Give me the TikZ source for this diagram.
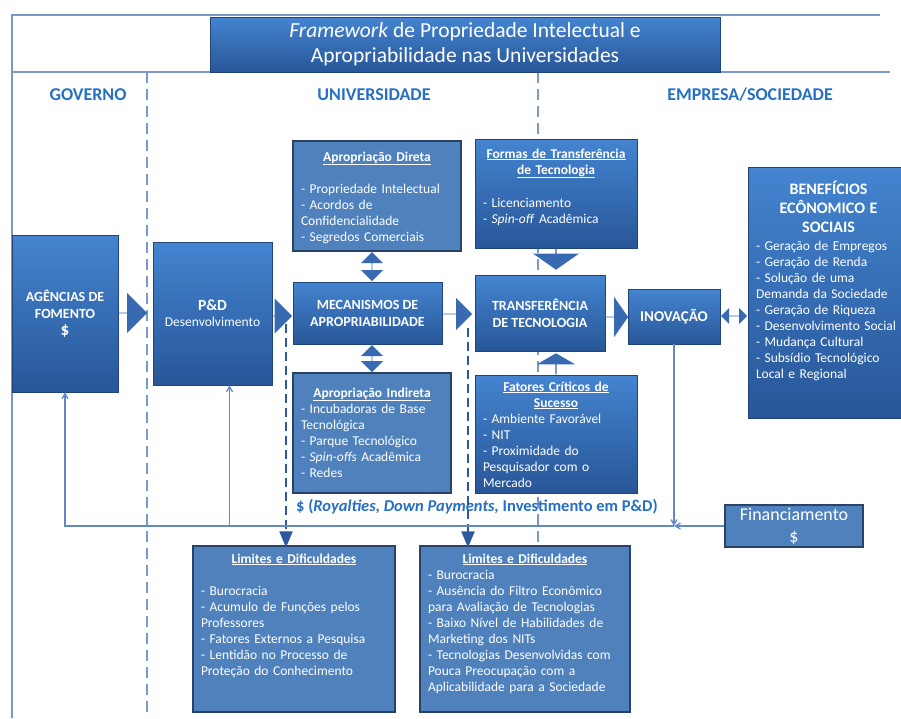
\documentclass[tikz,border=0pt]{standalone}
\usepackage{fontspec}
\setsansfont{Carlito}
\usepackage{xcolor}
\usepackage{tikz}
\usetikzlibrary{arrows,shapes.arrows,positioning,shapes,calc}

\definecolor{bluetop}{RGB}{68,132,208}
\definecolor{bluebot}{RGB}{40,86,152}
\definecolor{flatblue}{RGB}{79,129,189}
\definecolor{navy}{RGB}{42,66,104}
\definecolor{hdrblue}{RGB}{38,112,196}
\definecolor{framecol}{RGB}{122,152,204}
\definecolor{fbcol}{RGB}{98,136,200}
\definecolor{arrowblue}{RGB}{56,106,178}
\definecolor{dashcol}{RGB}{44,88,160}

\begin{document}
\begin{tikzpicture}[x=1pt,y=-1pt,
	font=\sffamily\fontsize{13.5}{16}\selectfont,
	grad box/.style={rectangle,top color=bluetop,bottom color=bluebot,draw=bluebot!80!black,
		line width=.6pt,text=white,align=center,inner sep=0pt},
	flat box/.style={rectangle,fill=flatblue,draw=navy,line width=1.2pt,text=white,
		align=center,inner sep=0pt},
	list box/.style n args={3}{inner xsep=8pt,inner ysep=0pt,text width=#1-16pt,
		text height=#3,text depth=#2-#3,align=left},
	head font/.style={font=\sffamily\bfseries\fontsize{14}{17}\selectfont},
	hdr/.style={font=\sffamily\bfseries\fontsize{18}{21}\selectfont,text=hdrblue},
	blk arrow/.style={single arrow,fill=arrowblue,inner sep=0pt},
	dbl arrow/.style={double arrow,fill=arrowblue,inner sep=0pt},
	sep line/.style={framecol,line width=1.2pt,dash pattern=on 11pt off 6pt},
	dash link/.style={dashcol,line width=2.8pt,dash pattern=on 9pt off 5pt,-triangle 45},
	fb line/.style={fbcol,line width=1.3pt,-angle 60}]

    \fill[white] (0,0) rectangle (901,718);
    \useasboundingbox (0,0) rectangle (901,718);

    % frame and columns
    \draw[framecol,line width=1.5pt] (12,718) -- (12,15) -- (880,15);
    \draw[framecol,line width=1.2pt] (12,72) -- (890,72);
    \draw[sep line] (147,72) -- (147,718);
    \draw[sep line] (538,72) -- (538,718);

    \node[grad box,minimum width=510pt,minimum height=55pt,
      font=\sffamily\fontsize{21.5}{25}\selectfont] (title) at (465,44.5)
      {\textit{Framework} de Propriedade Intelectual e\\Apropriabilidade nas Universidades};

    \node[hdr] (gov) at (88,95) {GOVERNO};
    \node[hdr] (univ) at (374,95) {UNIVERSIDADE};
    \node[hdr] (emp) at (750,95) {EMPRESA/SOCIEDADE};

    % main chain
    \node[grad box,head font,minimum width=106pt,minimum height=157pt] (agen) at (65,313.5)
      {AGÊNCIAS DE\\FOMENTO\\{\fontsize{17}{18}\selectfont\$}};
    \node[grad box,minimum width=119pt,minimum height=143pt] (pd) at (212.5,313.5)
      {{\bfseries\fontsize{15.5}{18}\selectfont P\&D}\\Desenvolvimento};
    \node[grad box,head font,minimum width=149pt,minimum height=62pt] (mec) at (367.5,313)
      {MECANISMOS DE\\APROPRIABILIDADE};
    \node[grad box,head font,minimum width=130pt,minimum height=76pt] (trans) at (540,313)
      {TRANSFERÊNCIA\\DE TECNOLOGIA};
    \node[grad box,minimum width=92pt,minimum height=55pt,
      font=\sffamily\bfseries\fontsize{15}{17}\selectfont] (inov) at (674,316.5) {INOVAÇÃO};

    \node[flat box,list box={168pt}{110pt}{20pt}] (dir) at (377,196)
      {{\centering\textbf{\underline{Apropriação Direta}}\par}\vspace{16pt}%
       - Propriedade Intelectual\\- Acordos de\\Confidencialidade\\- Segredos Comerciais};
    \node[flat box,list box={158pt}{120pt}{24pt}] (ind) at (372,433)
      {{\centering\textbf{\underline{Apropriação Indireta}}\par}%
       - Incubadoras de Base\\Tecnológica\\- Parque Tecnológico\\- \textit{Spin-offs} Acadêmica\\- Redes};
    \node[grad box,list box={162pt}{109pt}{19pt}] (formas) at (556,193.5)
      {{\centering\textbf{\underline{Formas de Transferência}}\\\textbf{\underline{de Tecnologia}}\par}\vspace{17pt}%
       - Licenciamento\\- \textit{Spin-off} Acadêmica};
    \node[grad box,list box={162pt}{118pt}{16pt}] (fat) at (556,434)
      {{\centering\textbf{\underline{Fatores Críticos de}}\\\textbf{\underline{Sucesso}}\par}%
       - Ambiente Favorável\\- NIT\\- Proximidade do\\Pesquisador com o\\Mercado};
    \node[grad box,list box={161pt}{251pt}{27pt}] (ben) at (828.5,292.5)
      {{\centering\bfseries\fontsize{16}{19}\selectfont BENEFÍCIOS\\ECÔNOMICO E\\SOCIAIS\par}\vspace{2pt}%
       - Geração de Empregos\\- Geração de Renda\\- Solução de uma\\Demanda da Sociedade\\- Geração de Riqueza\\%
       - Desenvolvimento Social\\- Mudança Cultural\\- Subsídio Tecnológico\\Local e Regional};

    \node[flat box,minimum width=138pt,minimum height=42pt,
      font=\sffamily\fontsize{18}{22}\selectfont] (fin) at (794,526) {Financiamento\\\$};

    \node[flat box,list box={202pt}{166pt}{17pt}] (lim1) at (294,629)
      {{\centering\textbf{\underline{Limites e Dificuldades}}\par}\vspace{16pt}%
       - Burocracia\\- Acumulo de Funções pelos\\Professores\\- Fatores Externos a Pesquisa\\%
       - Lentidão no Processo de\\Proteção do Conhecimento};
    \node[flat box,list box={210pt}{166pt}{17pt}] (lim2) at (525,629)
      {{\centering\textbf{\underline{Limites e Dificuldades}}\par}%
       - Burocracia\\- Ausência do Filtro Econômico\\para Avaliação de Tecnologias\\%
       - Baixo Nível de Habilidades de\\Marketing dos NITs\\- Tecnologias Desenvolvidas com\\%
       Pouca Preocupação com a\\Aplicabilidade para a Sociedade};

    \node[font=\sffamily\bfseries\fontsize{16.5}{19}\selectfont,text=hdrblue] (roy) at (477,507)
      {\$ (\textit{Royalties, Down Payments,} Investimento em P\&D)};

    % block arrows
    \node[blk arrow,minimum height=29pt,minimum width=40pt,single arrow head extend=11pt] (a1) at (132.5,313) {};
    \node[blk arrow,minimum height=20pt,minimum width=35pt,single arrow head extend=9pt] (a2) at (282,316) {};
    \node[blk arrow,minimum height=30pt,minimum width=32pt,single arrow head extend=8pt] (a3) at (457,314) {};
    \node[blk arrow,minimum height=23pt,minimum width=40pt,single arrow head extend=11pt,
      single arrow tip angle=110] (a4) at (616.5,317) {};
    \node[blk arrow,minimum height=21pt,minimum width=46pt,single arrow head extend=8pt,
      single arrow tip angle=110,shape border rotate=270] (a5) at (556,259) {};
    \node[blk arrow,minimum height=21pt,minimum width=38pt,single arrow head extend=5pt,
      single arrow tip angle=120,shape border rotate=90] (a6) at (556,364) {};
    \node[dbl arrow,minimum height=29pt,minimum width=22pt,double arrow head extend=6pt,
      shape border rotate=90] (d1) at (372,266.5) {};
    \node[dbl arrow,minimum height=27pt,minimum width=22pt,double arrow head extend=6pt,
      shape border rotate=90] (d2) at (372,358.5) {};
    \node[dbl arrow,minimum height=26pt,minimum width=16pt,double arrow head extend=4pt] (d3) at (734,316) {};

    % links down to the limits
    \coordinate (dl) at (286,324);
    \coordinate (dr) at (468,328);
    \draw[dash link] (dl) -- ([yshift=-2pt]dl |- lim1.north);
    \draw[dash link] (dr) -- ([yshift=-2pt]dr |- lim2.north);

    % funding loop
    \coordinate (jn) at (inov.south |- fin.west);
    \coordinate (pdfb) at ([xshift=17pt]pd.south);
    \draw[fb line] (inov) -- (jn);
    \draw[fb line] (fin) -- (jn);
    \draw[fb line] (jn) -| (agen);
    \draw[fb line] (pdfb |- jn) -- (pdfb);

\end{tikzpicture}
\end{document}
